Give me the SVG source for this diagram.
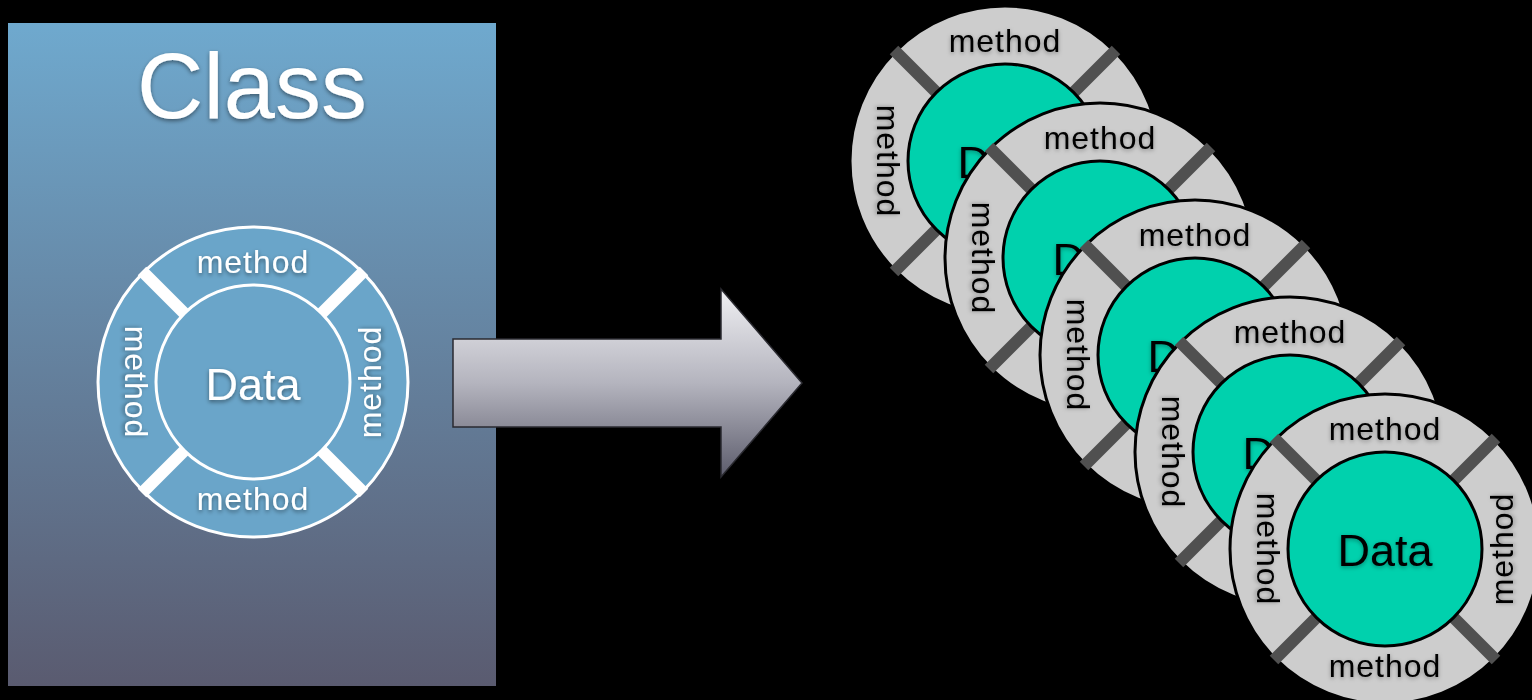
<svg xmlns="http://www.w3.org/2000/svg" xmlns:xlink="http://www.w3.org/1999/xlink" width="1532" height="700" viewBox="0 0 1532 700">
<defs>
  <linearGradient id="classGrad" x1="0" y1="0" x2="0" y2="1">
    <stop offset="0" stop-color="#6fa9ce"/>
    <stop offset="1" stop-color="#5a5b70"/>
  </linearGradient>
  <linearGradient id="arrowGrad" x1="0" y1="0" x2="0" y2="1">
    <stop offset="0" stop-color="#f0f0f3"/>
    <stop offset="0.5" stop-color="#b4b4be"/>
    <stop offset="1" stop-color="#5c5c6c"/>
  </linearGradient>
  <filter id="shadow" x="-20%" y="-20%" width="140%" height="160%">
    <feDropShadow dx="0" dy="2" stdDeviation="2" flood-color="#000" flood-opacity="0.45"/>
  </filter>
  <filter id="glow" x="-20%" y="-20%" width="140%" height="160%">
    <feDropShadow dx="0" dy="1.5" stdDeviation="2" flood-color="#000" flood-opacity="0.35"/>
  </filter>
</defs>
<style>
  .t { font-family: "Liberation Sans", Arial, sans-serif; text-anchor: middle; }
  .m { font-size: 32px; letter-spacing: 1px; }
  .d { font-size: 45px; }
  .wt { fill: #ffffff; filter: url(#shadow); }
  .bt { fill: #000000; filter: url(#glow); }
  .cOuter { fill: #6aa5c9; stroke: #ffffff; stroke-width: 3; }
  .cInner { fill: #6aa5c9; stroke: #ffffff; stroke-width: 3; }
  .cBar { stroke: #ffffff; stroke-width: 12; }
  .oOuter { fill: #cdcdcd; stroke: #000000; stroke-width: 3; }
  .oInner { fill: #00d1ad; stroke: #000000; stroke-width: 3; }
  .oBar { stroke: #505050; stroke-width: 12; }
</style>
<rect x="0" y="0" width="1532" height="700" fill="#000000"/>

<g id="class-box">
  <rect x="8" y="23" width="488" height="663" fill="url(#classGrad)"/>
  <text class="t wt" x="252" y="118" style="font-size:92px">Class</text>
</g>

<g id="class-circle" transform="translate(253,382)">
  <circle class="cOuter" r="155"/>
  <line class="cBar" x1="68" y1="-68" x2="111" y2="-111"/>
  <line class="cBar" x1="-68" y1="-68" x2="-111" y2="-111"/>
  <line class="cBar" x1="68" y1="68" x2="111" y2="111"/>
  <line class="cBar" x1="-68" y1="68" x2="-111" y2="111"/>
  <circle class="cInner" r="97"/>
  <text class="t m wt" x="0" y="-109">method</text>
  <text class="t m wt" x="0" y="128">method</text>
  <text class="t m wt" transform="translate(-117,0) rotate(90)" x="0" y="11">method</text>
  <text class="t m wt" transform="translate(117,0) rotate(-90)" x="0" y="11">method</text>
  <text class="t d wt" x="0" y="18">Data</text>
</g>

<g id="connectors">
  <path d="M453,339 L721,339 L721,289 L802,383 L721,477 L721,427 L453,427 Z" fill="url(#arrowGrad)" stroke="#2a2a30" stroke-width="1.5" stroke-linejoin="miter"/>
</g>

<g id="object-1" transform="translate(1005,161)">
  <circle class="oOuter" r="155"/>
  <line class="oBar" x1="68" y1="-68" x2="111" y2="-111"/>
  <line class="oBar" x1="-68" y1="-68" x2="-111" y2="-111"/>
  <line class="oBar" x1="68" y1="68" x2="111" y2="111"/>
  <line class="oBar" x1="-68" y1="68" x2="-111" y2="111"/>
  <circle class="oInner" r="97"/>
  <text class="t m bt" x="0" y="-109">method</text>
  <text class="t m bt" x="0" y="128">method</text>
  <text class="t m bt" transform="translate(-117,0) rotate(90)" x="0" y="11">method</text>
  <text class="t m bt" transform="translate(117,0) rotate(-90)" x="0" y="11">method</text>
  <text class="t d bt" x="0" y="17">Data</text>
</g>

<g id="object-2" transform="translate(1100,258)">
  <circle class="oOuter" r="155"/>
  <line class="oBar" x1="68" y1="-68" x2="111" y2="-111"/>
  <line class="oBar" x1="-68" y1="-68" x2="-111" y2="-111"/>
  <line class="oBar" x1="68" y1="68" x2="111" y2="111"/>
  <line class="oBar" x1="-68" y1="68" x2="-111" y2="111"/>
  <circle class="oInner" r="97"/>
  <text class="t m bt" x="0" y="-109">method</text>
  <text class="t m bt" x="0" y="128">method</text>
  <text class="t m bt" transform="translate(-117,0) rotate(90)" x="0" y="11">method</text>
  <text class="t m bt" transform="translate(117,0) rotate(-90)" x="0" y="11">method</text>
  <text class="t d bt" x="0" y="17">Data</text>
</g>

<g id="object-3" transform="translate(1195,355)">
  <circle class="oOuter" r="155"/>
  <line class="oBar" x1="68" y1="-68" x2="111" y2="-111"/>
  <line class="oBar" x1="-68" y1="-68" x2="-111" y2="-111"/>
  <line class="oBar" x1="68" y1="68" x2="111" y2="111"/>
  <line class="oBar" x1="-68" y1="68" x2="-111" y2="111"/>
  <circle class="oInner" r="97"/>
  <text class="t m bt" x="0" y="-109">method</text>
  <text class="t m bt" x="0" y="128">method</text>
  <text class="t m bt" transform="translate(-117,0) rotate(90)" x="0" y="11">method</text>
  <text class="t m bt" transform="translate(117,0) rotate(-90)" x="0" y="11">method</text>
  <text class="t d bt" x="0" y="17">Data</text>
</g>

<g id="object-4" transform="translate(1290,452)">
  <circle class="oOuter" r="155"/>
  <line class="oBar" x1="68" y1="-68" x2="111" y2="-111"/>
  <line class="oBar" x1="-68" y1="-68" x2="-111" y2="-111"/>
  <line class="oBar" x1="68" y1="68" x2="111" y2="111"/>
  <line class="oBar" x1="-68" y1="68" x2="-111" y2="111"/>
  <circle class="oInner" r="97"/>
  <text class="t m bt" x="0" y="-109">method</text>
  <text class="t m bt" x="0" y="128">method</text>
  <text class="t m bt" transform="translate(-117,0) rotate(90)" x="0" y="11">method</text>
  <text class="t m bt" transform="translate(117,0) rotate(-90)" x="0" y="11">method</text>
  <text class="t d bt" x="0" y="17">Data</text>
</g>

<g id="object-5" transform="translate(1385,549)">
  <circle class="oOuter" r="155"/>
  <line class="oBar" x1="68" y1="-68" x2="111" y2="-111"/>
  <line class="oBar" x1="-68" y1="-68" x2="-111" y2="-111"/>
  <line class="oBar" x1="68" y1="68" x2="111" y2="111"/>
  <line class="oBar" x1="-68" y1="68" x2="-111" y2="111"/>
  <circle class="oInner" r="97"/>
  <text class="t m bt" x="0" y="-109">method</text>
  <text class="t m bt" x="0" y="128">method</text>
  <text class="t m bt" transform="translate(-117,0) rotate(90)" x="0" y="11">method</text>
  <text class="t m bt" transform="translate(117,0) rotate(-90)" x="0" y="11">method</text>
  <text class="t d bt" x="0" y="17">Data</text>
</g>
</svg>
